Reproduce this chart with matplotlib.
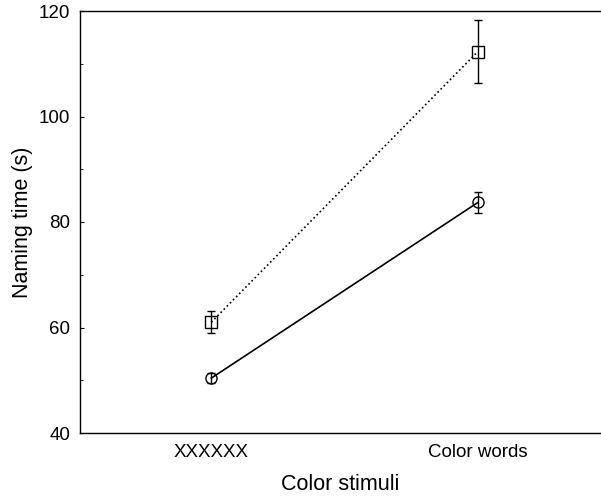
import matplotlib
matplotlib.use("Agg")
import matplotlib.pyplot as plt
from matplotlib.ticker import MultipleLocator

plt.rcParams['font.family'] = ['Liberation Sans', 'DejaVu Sans']

categories = ["XXXXXX", "Color words"]
square_vals = [61.0, 112.3]
square_err = [2.1, 6.0]
circle_vals = [50.4, 83.7]
circle_err = [0.9, 2.0]

fig = plt.figure(figsize=(6.01, 4.99), dpi=100)
ax = fig.add_axes([80/601, 66/499, 521/601, 422/499])

x = [1, 2]
ax.errorbar(x, square_vals, yerr=square_err, fmt='s', color='black',
            markerfacecolor='none', markersize=8, markeredgewidth=1.0,
            ls=':', lw=1.2, elinewidth=1.0, capsize=3, capthick=1.0)
ax.errorbar(x, circle_vals, yerr=circle_err, fmt='o', color='black',
            markerfacecolor='none', markersize=8, markeredgewidth=1.0,
            ls='-', lw=1.2, elinewidth=1.0, capsize=3, capthick=1.0)

ax.set_xlim(0.5075, 2.462)
ax.set_ylim(40, 120)
ax.set_xticks(x)
ax.set_xticklabels(categories)
ax.yaxis.set_major_locator(MultipleLocator(20))
ax.yaxis.set_minor_locator(MultipleLocator(10))
ax.tick_params(axis='y', which='major', direction='in', length=3, labelsize=13.5, pad=7)
ax.tick_params(axis='y', which='minor', direction='in', length=2)
ax.tick_params(axis='x', which='major', length=0, labelsize=13.5, pad=8)
ax.spines['right'].set_visible(False)
for s in ['left', 'top', 'bottom']:
    ax.spines[s].set_linewidth(1.0)

ax.set_xlabel("Color stimuli", fontsize=15.5, labelpad=9)
ax.set_ylabel("Naming time (s)", fontsize=15.5, labelpad=4)

fig.savefig("out.png", dpi=100)
